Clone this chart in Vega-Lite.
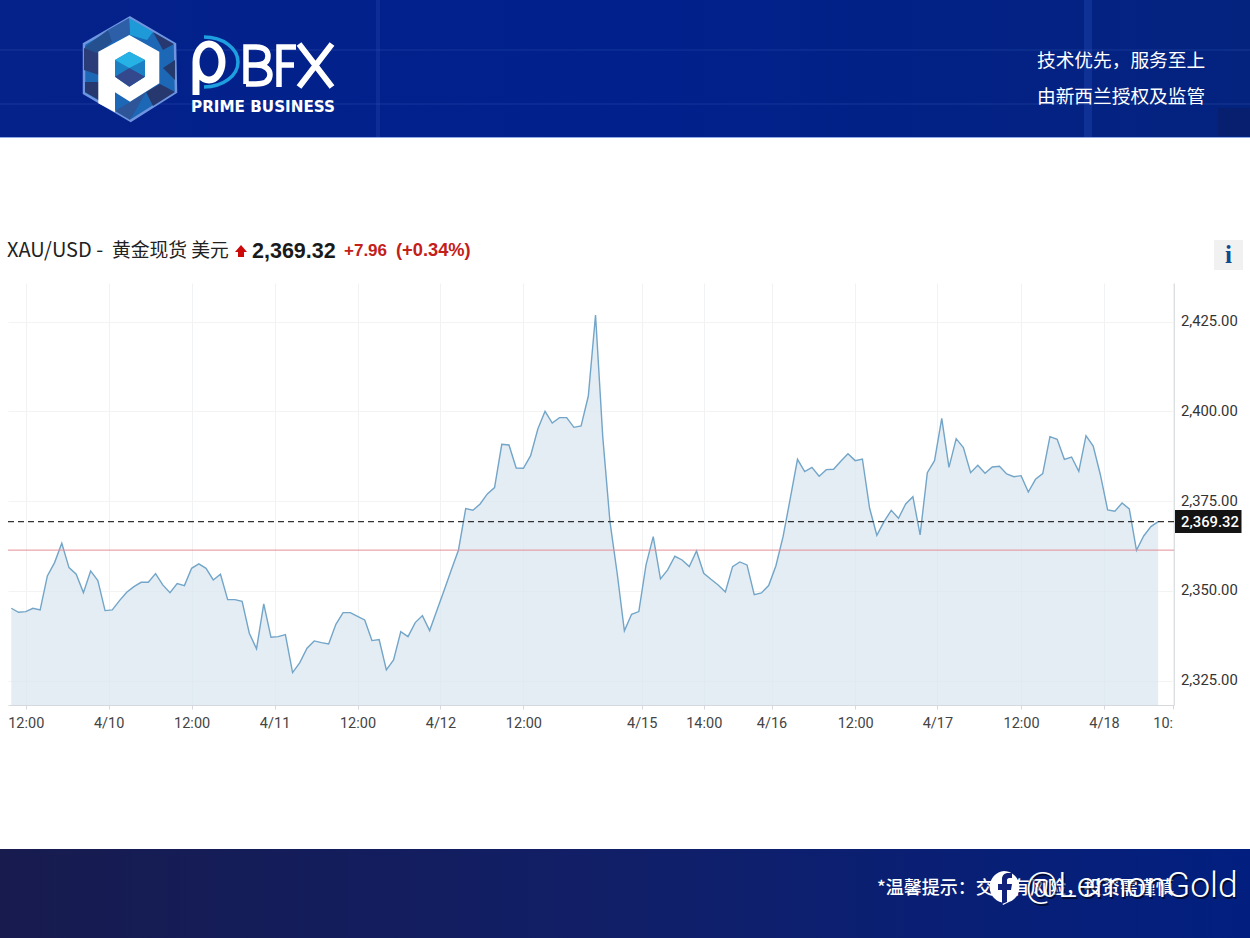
{"$schema":"https://vega.github.io/schema/vega-lite/v6.json","autosize":"none","width":1166,"height":422,"padding":{"left":8,"top":283,"right":76,"bottom":233},"background":"#ffffff","view":{"stroke":null},
"datasets":{"one":[{"k":1}],
"gold":[{"bar":0,"price":2345.16},{"bar":1,"price":2344.05},{"bar":2,"price":2344.23},{"bar":3,"price":2345.16},{"bar":4,"price":2344.69},{"bar":5,"price":2354.17},{"bar":6,"price":2357.88},{"bar":7,"price":2363.26},{"bar":8,"price":2356.49},{"bar":9,"price":2354.63},{"bar":10,"price":2349.52},{"bar":11,"price":2355.56},{"bar":12,"price":2352.87},{"bar":13,"price":2344.51},{"bar":14,"price":2344.69},{"bar":15,"price":2347.3},{"bar":16,"price":2349.62},{"bar":17,"price":2351.19},{"bar":18,"price":2352.4},{"bar":19,"price":2352.4},{"bar":20,"price":2354.81},{"bar":21,"price":2351.66},{"bar":22,"price":2349.52},{"bar":23,"price":2352.03},{"bar":24,"price":2351.47},{"bar":25,"price":2356.3},{"bar":26,"price":2357.51},{"bar":27,"price":2356.3},{"bar":28,"price":2353.05},{"bar":29,"price":2354.63},{"bar":30,"price":2347.57},{"bar":31,"price":2347.57},{"bar":32,"price":2347.11},{"bar":33,"price":2338.19},{"bar":34,"price":2333.83},{"bar":35,"price":2346.37},{"bar":36,"price":2337.08},{"bar":37,"price":2337.26},{"bar":38,"price":2337.82},{"bar":39,"price":2327.24},{"bar":40,"price":2330.02},{"bar":41,"price":2334.02},{"bar":42,"price":2336.06},{"bar":43,"price":2335.59},{"bar":44,"price":2335.22},{"bar":45,"price":2340.7},{"bar":46,"price":2343.95},{"bar":47,"price":2343.95},{"bar":48,"price":2342.93},{"bar":49,"price":2341.91},{"bar":50,"price":2336.15},{"bar":51,"price":2336.43},{"bar":52,"price":2327.98},{"bar":53,"price":2330.77},{"bar":54,"price":2338.66},{"bar":55,"price":2337.26},{"bar":56,"price":2341.16},{"bar":57,"price":2343.12},{"bar":58,"price":2338.94},{"bar":59,"price":2344.51},{"bar":60,"price":2350.08},{"bar":61,"price":2355.84},{"bar":62,"price":2361.4},{"bar":63,"price":2372.92},{"bar":64,"price":2372.46},{"bar":65,"price":2374.22},{"bar":66,"price":2377.01},{"bar":67,"price":2378.77},{"bar":68,"price":2390.84},{"bar":69,"price":2390.66},{"bar":70,"price":2384.25},{"bar":71,"price":2384.16},{"bar":72,"price":2387.69},{"bar":73,"price":2395.11},{"bar":74,"price":2400.03},{"bar":75,"price":2396.78},{"bar":76,"price":2398.27},{"bar":77,"price":2398.27},{"bar":78,"price":2395.58},{"bar":79,"price":2395.95},{"bar":80,"price":2404.3},{"bar":81,"price":2426.87},{"bar":82,"price":2392.98},{"bar":83,"price":2369.3},{"bar":84,"price":2354.91},{"bar":85,"price":2338.85},{"bar":86,"price":2343.49},{"bar":87,"price":2344.23},{"bar":88,"price":2357.23},{"bar":89,"price":2365.12},{"bar":90,"price":2353.33},{"bar":91,"price":2355.84},{"bar":92,"price":2359.65},{"bar":93,"price":2358.62},{"bar":94,"price":2356.77},{"bar":95,"price":2361.13},{"bar":96,"price":2354.91},{"bar":97,"price":2353.24},{"bar":98,"price":2351.66},{"bar":99,"price":2349.71},{"bar":100,"price":2356.77},{"bar":101,"price":2358.07},{"bar":102,"price":2357.23},{"bar":103,"price":2348.97},{"bar":104,"price":2349.43},{"bar":105,"price":2351.47},{"bar":106,"price":2356.95},{"bar":107,"price":2365.12},{"bar":108,"price":2375.8},{"bar":109,"price":2386.66},{"bar":110,"price":2383.23},{"bar":111,"price":2384.44},{"bar":112,"price":2381.93},{"bar":113,"price":2383.79},{"bar":114,"price":2383.88},{"bar":115,"price":2386.11},{"bar":116,"price":2388.24},{"bar":117,"price":2386.3},{"bar":118,"price":2386.76},{"bar":119,"price":2373.02},{"bar":120,"price":2365.49},{"bar":121,"price":2369.3},{"bar":122,"price":2372.46},{"bar":123,"price":2370.23},{"bar":124,"price":2374.22},{"bar":125,"price":2376.26},{"bar":126,"price":2365.59},{"bar":127,"price":2382.95},{"bar":128,"price":2386.3},{"bar":129,"price":2398.08},{"bar":130,"price":2384.44},{"bar":131,"price":2392.42},{"bar":132,"price":2389.91},{"bar":133,"price":2382.95},{"bar":134,"price":2384.99},{"bar":135,"price":2382.76},{"bar":136,"price":2384.53},{"bar":137,"price":2384.71},{"bar":138,"price":2382.58},{"bar":139,"price":2381.83},{"bar":140,"price":2382.11},{"bar":141,"price":2377.56},{"bar":142,"price":2381.09},{"bar":143,"price":2382.67},{"bar":144,"price":2392.98},{"bar":145,"price":2392.23},{"bar":146,"price":2386.66},{"bar":147,"price":2387.31},{"bar":148,"price":2383.32},{"bar":149,"price":2393.26},{"bar":150,"price":2390.38},{"bar":151,"price":2382.3},{"bar":152,"price":2372.55},{"bar":153,"price":2372.18},{"bar":154,"price":2374.5},{"bar":155,"price":2372.83},{"bar":156,"price":2361.31},{"bar":157,"price":2365.31},{"bar":158,"price":2367.91},{"bar":159,"price":2369.32}]},
"layer":[
{"data":{"name":"gold"},"mark":{"type":"area","color":"#d9e6f0","opacity":0.72,"line":false,"clip":true},"encoding":{
"x":{"field":"bar","type":"quantitative","title":null,"scale":{"domain":[-0.457,161.2],"nice":false,"zero":false},"axis":{"orient":"bottom","values":[2,13.5,25,36.5,48,59.5,71,87.4,96,105.4,117,128.4,140,151.5,161],"labelExpr":"{'2':'12:00','13.5':'4/10','25':'12:00','36.5':'4/11','48':'12:00','59.5':'4/12','71':'12:00','87.4':'4/15','96':'14:00','105.4':'4/16','117':'12:00','128.4':'4/17','140':'12:00','151.5':'4/18','161':'10:'}[datum.value]","labelFont":"Roboto","labelFontSize":14.5,"labelColor":"#444444","labelPadding":7,"labelOverlap":false,"labelFlush":false,"labelBound":false,"labelAlign":{"condition":{"test":"datum.value>160","value":"right"},"value":"center"},"tickSize":4,"tickColor":"#d5d9dd","domainColor":"#d5d9dd","grid":true,"gridColor":"#f1f2f3","zindex":0}},
"y":{"field":"price","type":"quantitative","title":null,"scale":{"domain":[2318.2,2435.8],"nice":false,"zero":false},"axis":{"orient":"right","values":[2325,2350,2375,2400,2425],"format":",.2f","labelFont":"Roboto","labelFontSize":14.8,"labelColor":"#333333","labelPadding":6.5,"tickSize":0,"domainColor":"#dcdfe2","grid":true,"gridColor":"#f3f3f3","zindex":0}}}},
{"data":{"name":"gold"},"mark":{"type":"line","color":"#72a5c8","strokeWidth":1.4,"interpolate":"linear"},"encoding":{"x":{"field":"bar","type":"quantitative"},"y":{"field":"price","type":"quantitative"}}},
{"data":{"values":[{"level":2361.36}]},"mark":{"type":"rule","color":"#e58f97","strokeWidth":1},"encoding":{"y":{"field":"level","type":"quantitative"}}},
{"data":{"values":[{"level":2369.32}]},"mark":{"type":"rule","color":"#333333","strokeWidth":1.2,"strokeDash":[6,4]},"encoding":{"y":{"field":"level","type":"quantitative"}}},
{"data":{"name":"one"},"mark":{"type":"rect","color":"#141414"},"encoding":{"x":{"value":1167},"x2":{"value":1233.5},"y":{"value":227},"y2":{"value":250}}},
{"data":{"values":[{"label":"2,369.32"}]},"mark":{"type":"text","color":"#ffffff","font":"Roboto","fontSize":14.8,"fontWeight":500,"align":"left","baseline":"alphabetic"},"encoding":{"x":{"value":1173},"y":{"value":243.5},"text":{"field":"label"}}},
{"data":{"name":"one"},"mark":{"type":"rect","color":"#f1f1f1"},"encoding":{"x":{"value":1206},"x2":{"value":1235},"y":{"value":-43},"y2":{"value":-13}}},
{"data":{"values":[{"label":"i"}]},"mark":{"type":"text","color":"#0e4a8e","font":"Liberation Serif","fontWeight":"bold","fontSize":25,"align":"center","baseline":"alphabetic"},"encoding":{"x":{"value":1220.5},"y":{"value":-20},"text":{"field":"label"}}},

{"data":{"values":[{"label":"XAU/USD -"}]},"mark":{"type":"text","color":"#222222","font":"Noto Sans CJK SC","fontSize":20,"align":"left","baseline":"alphabetic"},"encoding":{"x":{"value":-1},"y":{"value":-26},"text":{"field":"label"}}},
{"data":{"values":[{"label":"黄金现货 美元"}]},"mark":{"type":"text","color":"#222222","font":"Noto Sans CJK SC","fontSize":18.8,"align":"left","baseline":"alphabetic"},"encoding":{"x":{"value":104},"y":{"value":-26},"text":{"field":"label"}}},
{"data":{"name":"one"},"mark":{"type":"point","shape":"M241 245L247 252H244V257H238V252H235Z","size":4,"filled":true,"color":"#cc0a0a","strokeWidth":0,"opacity":1},"encoding":{"x":{"value":-8},"y":{"value":-283}}},
{"data":{"values":[{"label":"2,369.32"}]},"mark":{"type":"text","color":"#1a1a1a","font":"Liberation Sans","fontWeight":"bold","fontSize":21.5,"align":"left","baseline":"alphabetic"},"encoding":{"x":{"value":244},"y":{"value":-25},"text":{"field":"label"}}},
{"data":{"values":[{"label":"+7.96"}]},"mark":{"type":"text","color":"#c4201a","font":"Liberation Sans","fontWeight":"bold","fontSize":17,"align":"left","baseline":"alphabetic"},"encoding":{"x":{"value":336},"y":{"value":-27},"text":{"field":"label"}}},
{"data":{"values":[{"label":"(+0.34%)"}]},"mark":{"type":"text","color":"#c4201a","font":"Liberation Sans","fontWeight":"bold","fontSize":18.3,"align":"left","baseline":"alphabetic"},"encoding":{"x":{"value":388},"y":{"value":-27},"text":{"field":"label"}}},

{"data":{"name":"one"},"mark":{"type":"rect","color":{"x1":0,"y1":0,"x2":1,"y2":0,"gradient":"linear","stops":[{"offset":0,"color":"#05228a"},{"offset":0.5,"color":"#01208c"},{"offset":1,"color":"#04237f"}]}},"encoding":{"x":{"value":-8},"x2":{"value":1242},"y":{"value":-283},"y2":{"value":-145}}},
{"data":{"name":"one"},"mark":{"type":"rect","color":"#5f86e0","opacity":0.1},"encoding":{"x":{"value":-8},"x2":{"value":1242},"y":{"value":-234},"y2":{"value":-232}}},
{"data":{"name":"one"},"mark":{"type":"rect","color":"#5f86e0","opacity":0.1},"encoding":{"x":{"value":-8},"x2":{"value":1242},"y":{"value":-180},"y2":{"value":-178}}},
{"data":{"name":"one"},"mark":{"type":"rect","color":"#5f86e0","opacity":0.12},"encoding":{"x":{"value":368},"x2":{"value":372},"y":{"value":-283},"y2":{"value":-145}}},
{"data":{"name":"one"},"mark":{"type":"rect","color":"#3f6fe0","opacity":0.2},"encoding":{"x":{"value":1076},"x2":{"value":1084},"y":{"value":-283},"y2":{"value":-145}}},
{"data":{"name":"one"},"mark":{"type":"rect","color":"#0a1a5c","opacity":0.45},"encoding":{"x":{"value":1210},"x2":{"value":1242},"y":{"value":-175},"y2":{"value":-147}}},
{"data":{"name":"one"},"mark":{"type":"rect","color":"#8fa8e6"},"encoding":{"x":{"value":-8},"x2":{"value":1242},"y":{"value":-146},"y2":{"value":-145}}},

{"data":{"name":"one"},"mark":{"type":"point","shape":"M130 17.5L175 44L176 92L130.7 120.7L84 93.3L84 44Z","size":4,"filled":true,"color":"#1c68b6","stroke":"#6f95e0","strokeWidth":2.5,"opacity":1},"encoding":{"x":{"value":-8},"y":{"value":-283}}},
{"data":{"name":"one"},"mark":{"type":"point","shape":"M153 32L174 44L163 50Z","size":4,"filled":true,"color":"#26386f","strokeWidth":0,"opacity":1},"encoding":{"x":{"value":-8},"y":{"value":-283}}},
{"data":{"name":"one"},"mark":{"type":"point","shape":"M129 18L153 32L147 40L130 35Z","size":4,"filled":true,"color":"#1f9ad8","strokeWidth":0,"opacity":1},"encoding":{"x":{"value":-8},"y":{"value":-283}}},
{"data":{"name":"one"},"mark":{"type":"point","shape":"M108 30L129 18L130 35L112 42Z","size":4,"filled":true,"color":"#2d5ea8","strokeWidth":0,"opacity":1},"encoding":{"x":{"value":-8},"y":{"value":-283}}},
{"data":{"name":"one"},"mark":{"type":"point","shape":"M85 47L108 30L112 42L98 54L85 62Z","size":4,"filled":true,"color":"#24508f","strokeWidth":0,"opacity":1},"encoding":{"x":{"value":-8},"y":{"value":-283}}},
{"data":{"name":"one"},"mark":{"type":"point","shape":"M84 48L99 54V75L84 70Z","size":4,"filled":true,"color":"#2b3d78","strokeWidth":0,"opacity":1},"encoding":{"x":{"value":-8},"y":{"value":-283}}},
{"data":{"name":"one"},"mark":{"type":"point","shape":"M175 60L163 68L175 80Z","size":4,"filled":true,"color":"#243a6c","strokeWidth":0,"opacity":1},"encoding":{"x":{"value":-8},"y":{"value":-283}}},
{"data":{"name":"one"},"mark":{"type":"point","shape":"M85 82H99V100L85 92Z","size":4,"filled":true,"color":"#27386f","strokeWidth":0,"opacity":1},"encoding":{"x":{"value":-8},"y":{"value":-283}}},
{"data":{"name":"one"},"mark":{"type":"point","shape":"M130 102L146 92L130 120L115 111Z","size":4,"filled":true,"color":"#2d5598","strokeWidth":0,"opacity":1},"encoding":{"x":{"value":-8},"y":{"value":-283}}},
{"data":{"name":"one"},"mark":{"type":"point","shape":"M146 92L160 84L175 92L153 106Z","size":4,"filled":true,"color":"#27386f","strokeWidth":0,"opacity":1},"encoding":{"x":{"value":-8},"y":{"value":-283}}},
{"data":{"name":"one"},"mark":{"type":"point","shape":"M129.3 35L159.3 51.7V83.3L130 101.7L115 92.3V112.3L98.3 103.3V51.7Z","size":4,"filled":true,"color":"#ffffff","strokeWidth":0,"opacity":1},"encoding":{"x":{"value":-8},"y":{"value":-283}}},
{"data":{"name":"one"},"mark":{"type":"point","shape":"M129.3 51.7L145 60V76.7L129.3 86.7L115 76.7V60Z","size":4,"filled":true,"color":"#1b7fc4","strokeWidth":0,"opacity":1},"encoding":{"x":{"value":-8},"y":{"value":-283}}},
{"data":{"name":"one"},"mark":{"type":"point","shape":"M129.3 51.7L145 60L129.3 68L115 60Z","size":4,"filled":true,"color":"#27b2e6","strokeWidth":0,"opacity":1},"encoding":{"x":{"value":-8},"y":{"value":-283}}},
{"data":{"name":"one"},"mark":{"type":"point","shape":"M115 76.7L129.3 68L145 76.7L129.3 86.7Z","size":4,"filled":true,"color":"#34488e","strokeWidth":0,"opacity":1},"encoding":{"x":{"value":-8},"y":{"value":-283}}},

{"data":{"name":"one"},"mark":{"type":"point","shape":"M204 37A34 25 0 0 1 204 87","size":4,"filled":false,"color":"#1d9fe0","strokeWidth":3.5,"opacity":1},"encoding":{"x":{"value":-8},"y":{"value":-283}}},
{"data":{"name":"one"},"mark":{"type":"point","shape":"M196 95V62A13 18 0 0 1 222 62A13 18 0 0 1 196 62","size":4,"filled":false,"color":"#ffffff","strokeWidth":7,"opacity":1},"encoding":{"x":{"value":-8},"y":{"value":-283}}},
{"data":{"name":"one"},"mark":{"type":"point","shape":"M246 84V47H256C266 47 268 52 268 56C268 61 265 65 256 65H246M256 65C266 65 270 70 270 74.500C270 80 266 84 256 84H246","size":4,"filled":false,"color":"#ffffff","strokeWidth":5.5,"opacity":1},"encoding":{"x":{"value":-8},"y":{"value":-283}}},
{"data":{"name":"one"},"mark":{"type":"point","shape":"M296 47H279V87M279 65H294","size":4,"filled":false,"color":"#ffffff","strokeWidth":5.5,"opacity":1},"encoding":{"x":{"value":-8},"y":{"value":-283}}},
{"data":{"name":"one"},"mark":{"type":"point","shape":"M299 44L332 87M332 44L299 87","size":4,"filled":false,"color":"#ffffff","strokeWidth":6,"opacity":1},"encoding":{"x":{"value":-8},"y":{"value":-283}}},
{"data":{"values":[{"label":"PRIME BUSINESS"}]},"mark":{"type":"text","color":"#ffffff","font":"DejaVu Sans","fontWeight":"bold","fontSize":15.2,"align":"left","baseline":"alphabetic"},"encoding":{"x":{"value":183},"y":{"value":-171},"text":{"field":"label"}}},
{"data":{"values":[{"label":"技术优先，服务至上"}]},"mark":{"type":"text","color":"#ffffff","font":"Noto Sans CJK SC","fontSize":18.7,"align":"left","baseline":"alphabetic"},"encoding":{"x":{"value":1029},"y":{"value":-216},"text":{"field":"label"}}},
{"data":{"values":[{"label":"由新西兰授权及监管"}]},"mark":{"type":"text","color":"#ffffff","font":"Noto Sans CJK SC","fontSize":18.7,"align":"left","baseline":"alphabetic"},"encoding":{"x":{"value":1029},"y":{"value":-180},"text":{"field":"label"}}},

{"data":{"name":"one"},"mark":{"type":"rect","color":{"x1":0,"y1":0,"x2":1,"y2":0,"gradient":"linear","stops":[{"offset":0,"color":"#171b4e"},{"offset":0.5,"color":"#111f68"},{"offset":1,"color":"#021f80"}]}},"encoding":{"x":{"value":-8},"x2":{"value":1242},"y":{"value":566},"y2":{"value":655}}},
{"data":{"values":[{"label":"*温馨提示：交易有风险，投资需谨慎"}]},"mark":{"type":"text","color":"#ffffff","font":"Noto Sans CJK SC","fontWeight":500,"fontSize":18,"align":"left","baseline":"alphabetic"},"encoding":{"x":{"value":869},"y":{"value":611},"text":{"field":"label"}}},
{"data":{"name":"one"},"mark":{"type":"point","shape":"M1004 871A16 16 0 0 1 1009 902L1003 905L1002 902.5A16 16 0 0 1 1004 871Z","size":4,"filled":true,"color":"#ffffff","strokeWidth":0,"opacity":1},"encoding":{"x":{"value":-8},"y":{"value":-283}}},
{"data":{"name":"one"},"mark":{"type":"point","shape":"M1002 904V890H998V884H1002V879C1002 875 1005 873 1008 873H1012V878H1009C1008 878 1007 879 1007 880V884H1012L1011 890H1007V902Z","size":4,"filled":true,"color":"#10227a","strokeWidth":0,"opacity":1},"encoding":{"x":{"value":-8},"y":{"value":-283}}},
{"data":{"values":[{"label":"@LemonGold"}]},"mark":{"type":"text","color":"#000000","opacity":0.6,"font":"Roboto","fontWeight":300,"fontSize":35.5,"align":"left","baseline":"alphabetic"},"encoding":{"x":{"value":1019},"y":{"value":615.5},"text":{"field":"label"}}},
{"data":{"values":[{"label":"@LemonGold"}]},"mark":{"type":"text","color":"#ffffff","font":"Roboto","fontWeight":300,"fontSize":35.5,"align":"left","baseline":"alphabetic"},"encoding":{"x":{"value":1017.5},"y":{"value":614},"text":{"field":"label"}}}
]}
